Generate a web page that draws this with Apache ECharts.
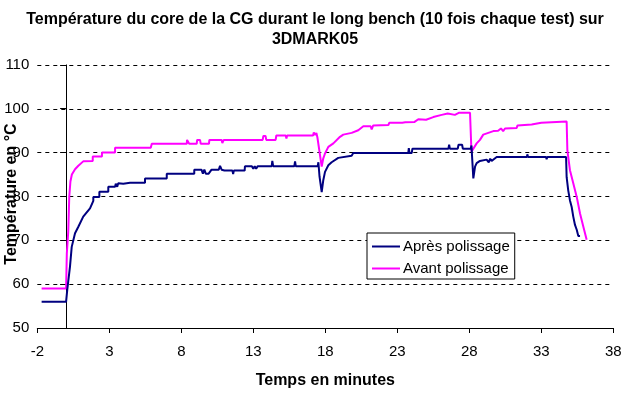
<!DOCTYPE html>
<html>
<head>
<meta charset="utf-8">
<script src="https://cdn.jsdelivr.net/npm/echarts@6/dist/echarts.min.js"></script>
<style>
html,body{margin:0;padding:0;background:#fff;}
#chart{width:630px;height:394px;}
</style>
</head>
<body>
<div id="chart"></div>
<script>
// ---- data ----
var titleText = "Température du core de la CG durant le long bench (10 fois chaque test) sur\n3DMARK05";
var xAxisTitle = "Temps en minutes";
var yAxisTitle = "Température en °C";
var seriesNames = ["Après polissage", "Avant polissage"];

var apresT = [-1.7, 0, 0.08, 0.27, 0.39, 0.62, 0.85, 1.19, 1.66, 1.89, 1.89, 2.31, 2.31, 2.93, 2.93, 3.4, 3.45, 3.55, 3.62, 3.7, 3.97, 3.97, 4.44, 4.55, 5.48, 5.48, 6.99, 6.99, 8.9, 8.9, 9.4, 9.5, 9.6, 9.7, 9.8, 9.9, 10.1, 10.6, 10.69, 10.8, 11.0, 11.55, 11.6, 11.65, 12.4, 12.42, 12.9, 13.0, 13.1, 13.2, 13.3, 14.28, 14.32, 14.38, 15.85, 15.9, 15.95, 17.47, 17.52, 17.6, 17.75, 17.86, 17.98, 18.21, 18.44, 18.9, 19.83, 19.94, 23.76, 23.8, 23.85, 24.0, 24.05, 26.55, 26.6, 26.65, 27.2, 27.25, 27.5, 27.55, 28.1, 28.15, 28.28, 28.4, 28.51, 28.74, 29.2, 29.35, 29.45, 29.55, 29.9, 32.0, 32.03, 32.08, 33.33, 33.37, 33.42, 34.72, 34.76, 34.87, 34.99, 35.11, 35.22, 35.34, 35.46, 35.57, 35.69];
var apresV = [56, 56, 58.7, 64, 68.5, 71.6, 73.1, 75.4, 77.3, 79, 79.9, 79.9, 81.1, 81.1, 82.2, 82.2, 82.9, 82.2, 83, 82.9, 82.9, 83.1, 83.1, 83.1, 83.1, 84.1, 84.1, 85.2, 85.2, 86.1, 86.1, 85.2, 86.1, 85.2, 85.6, 85.2, 86.1, 86.1, 87, 86.1, 85.9, 85.9, 85.1, 85.9, 85.9, 86.9, 86.9, 86.3, 86.9, 86.3, 86.9, 86.9, 88.1, 86.9, 86.9, 88, 86.9, 86.9, 87.8, 84.5, 81.0, 83.7, 85.6, 87.1, 87.8, 88.8, 89.3, 89.9, 89.9, 91, 89.9, 89.9, 90.9, 90.9, 91.8, 90.9, 90.9, 91.8, 91.8, 90.9, 90.9, 91.6, 84.1, 86.8, 87.6, 88.1, 88.4, 87.8, 88.6, 88.1, 89.0, 89.0, 89.6, 89.0, 89.0, 88.5, 89.0, 89.0, 84.4, 81.4, 79.1, 77.6, 75.4, 73.5, 72.4, 71.0, 71.0];

var avantT = [-1.7, 0, 0.05, 0.15, 0.22, 0.3, 0.4, 0.62, 0.85, 1.19, 1.31, 1.85, 1.85, 2.49, 2.49, 3.4, 3.4, 5.88, 5.95, 8.38, 8.4, 8.5, 8.55, 9.07, 9.1, 9.3, 9.35, 9.92, 9.95, 10.8, 10.85, 10.95, 13.65, 13.7, 13.85, 13.9, 14.55, 14.6, 15.25, 15.3, 15.35, 17.15, 17.2, 17.3, 17.38, 17.45, 17.75, 17.86, 17.98, 18.21, 18.56, 19.02, 19.25, 19.83, 20.29, 20.64, 21.15, 21.22, 21.33, 22.38, 22.45, 23.35, 23.45, 23.55, 24.2, 24.46, 25.0, 25.5, 26.08, 26.5, 27.0, 27.3, 28.05, 28.15, 28.28, 28.51, 28.74, 28.97, 29.32, 29.67, 30.0, 30.2, 30.35, 30.48, 31.29, 31.35, 32.33, 32.4, 33.0, 33.1, 34.76, 34.81, 34.99, 35.22, 35.46, 35.69, 35.92, 36.15];
var avantV = [59, 59, 67, 72, 80, 83.4, 85, 86.2, 87, 88, 88.1, 88.1, 89.1, 89.1, 90, 90, 91.1, 91.1, 92, 92, 92.9, 92.9, 92, 92, 92.9, 92.9, 92, 92, 92.9, 92.9, 92.2, 92.9, 92.9, 93.8, 93.8, 92.9, 92.9, 93.9, 93.9, 93.2, 93.9, 93.9, 94.6, 94.0, 94.5, 93.5, 86.8, 88.7, 89.8, 91.3, 92.1, 93.6, 94.1, 94.5, 95.1, 96.0, 96.0, 95.3, 96.2, 96.3, 96.8, 96.8, 96.4, 96.9, 97.0, 97.6, 97.5, 98.1, 98.6, 98.9, 98.6, 99.1, 99.1, 90.2, 90.4, 92.1, 92.9, 94.1, 94.5, 94.9, 95.0, 95.5, 94.9, 95.5, 95.6, 96.2, 96.4, 96.8, 96.8, 97.1, 97.1, 90.5, 86, 83, 79.9, 76.1, 73.1, 70.1];

var xTicks = {min: -2, max: 38, step: 5};
var yTicks = {min: 50, max: 110, step: 10};

function zip(t, v) { return t.map(function (x, i) { return [x, v[i]]; }); }

var FONT = 'Arial, "Liberation Sans", sans-serif';
var LINE_ICON = 'path://M0,0 L28,0 L28,2 L0,2 Z';
var chart = echarts.init(document.getElementById('chart'), null, {renderer: 'canvas'});
chart.setOption({
  animation: false,
  backgroundColor: '#ffffff',
  title: {
    text: titleText,
    left: 'center',
    top: 5,
    textStyle: {fontFamily: FONT, fontSize: 16, fontWeight: 'bold', color: '#000', lineHeight: 20}
  },
  graphic: [{
    type: 'text',
    x: 12,
    y: 194,
    rotation: Math.PI / 2,
    silent: true,
    style: {
      text: yAxisTitle,
      fontFamily: FONT, fontSize: 16, fontWeight: 'bold', fill: '#000',
      align: 'center', verticalAlign: 'middle'
    }
  }],
  legend: {
    orient: 'vertical',
    left: 367,
    top: 233,
    padding: [6, 5, 3, 5],
    itemGap: 7,
    itemWidth: 28,
    itemHeight: 14,
    icon: LINE_ICON,
    borderColor: '#000',
    borderWidth: 1,
    borderRadius: 0,
    backgroundColor: '#fff',
    textStyle: {fontFamily: FONT, fontSize: 15, color: '#000', padding: [0, 0, 0, -2]},
    data: seriesNames
  },
  grid: {left: 37.3, right: 16.7, top: 64.9, bottom: 66, containLabel: false, outerBoundsMode: 'none'},
  xAxis: {
    type: 'value',
    min: xTicks.min, max: xTicks.max, interval: xTicks.step,
    name: xAxisTitle,
    nameLocation: 'middle',
    nameGap: 45,
    nameMoveOverlap: false,
    nameTextStyle: {fontFamily: FONT, fontSize: 16, fontWeight: 'bold', color: '#000'},
    axisLine: {onZero: false, lineStyle: {color: '#000', width: 1}},
    axisTick: {show: true, inside: false, length: 5, lineStyle: {color: '#000'}},
    axisLabel: {fontFamily: FONT, fontSize: 15, color: '#000', margin: 16},
    splitLine: {show: false}
  },
  yAxis: {
    type: 'value',
    min: yTicks.min, max: yTicks.max, interval: yTicks.step,
    axisLine: {show: true, onZero: true, lineStyle: {color: '#000', width: 1}},
    axisTick: {show: true, inside: false, length: 6, lineStyle: {color: '#000'}},
    axisLabel: {fontFamily: FONT, fontSize: 15, color: '#000', margin: 8},
    splitLine: {show: true, lineStyle: {color: '#000', width: 1, type: [4, 4]}}
  },
  series: [
    {
      name: seriesNames[0], type: 'line', symbol: 'none', showSymbol: false,
      data: zip(apresT, apresV),
      lineStyle: {color: '#000080', width: 2}, itemStyle: {color: '#000080'},
      z: 3
    },
    {
      name: seriesNames[1], type: 'line', symbol: 'none', showSymbol: false,
      data: zip(avantT, avantV),
      lineStyle: {color: '#ff00ff', width: 2}, itemStyle: {color: '#ff00ff'},
      z: 2
    }
  ]
});
</script>
</body>
</html>
